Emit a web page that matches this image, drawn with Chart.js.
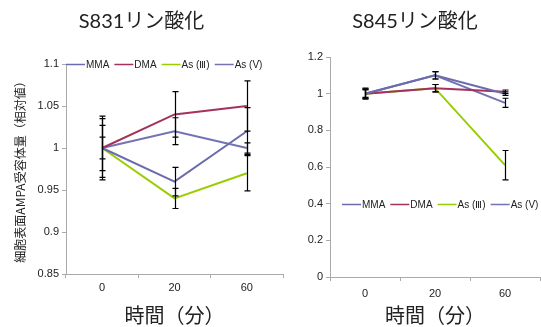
<!DOCTYPE html>
<html>
<head>
<meta charset="utf-8">
<script src="https://cdn.jsdelivr.net/npm/chart.js@4.4.1/dist/chart.umd.min.js"></script>
<style>
    body { margin: 0; background: #fff; }
    #wrap { position: relative; width: 541px; height: 327px; }
    #s831 { position: absolute; left: 0; top: 0; }
    #s845 { position: absolute; left: 290px; top: 0; }
</style>
</head>
<body>
<div id="wrap">
    <canvas id="s831" width="290" height="327"></canvas>
    <canvas id="s845" width="251" height="327"></canvas>
</div>
<script>
// 時間（分）
const times = ['0', '20', '60'];
const seriesNames = ['MMA', 'DMA', 'As (\u2162)', 'As (V)'];
const seriesColors = ['#6b6bad', '#a3325f', '#9acd00', '#7373b3'];

// S831リン酸化
const s831Mma = [1, 0.96, 1.02];
const s831Dma = [1, 1.04, 1.05];
const s831As3 = [1, 0.94, 0.97];
const s831As5 = [1, 1.02, 1.00];
const s831MmaErr = [0.038, 0.017, 0.028];
const s831DmaErr = [0.027, 0.027, 0.030];
const s831As3Err = [0.013, 0.012, 0.021];
const s831As5Err = [0.035, 0.016, 0.006];
const s831Ticks = [0.85, 0.9, 0.95, 1, 1.05, 1.1];

// S845リン酸化
const s845Mma = [1, 1.10, 1.00];
const s845Dma = [1, 1.03, 1.01];
const s845As3 = [1, 1.03, 0.61];
const s845As5 = [1, 1.10, 0.95];
const s845MmaErr = [0.025, 0.02, 0.01];
const s845DmaErr = [0.02, 0.02, 0.01];
const s845As3Err = [0.025, 0.02, 0.08];
const s845As5Err = [0.03, 0.02, 0.025];
const s845Ticks = [0, 0.2, 0.4, 0.6, 0.8, 1, 1.2];

const tickFont = { family: '"Liberation Sans", Arial, sans-serif', size: 11 };
const cjkFont = '"Noto Sans CJK JP", sans-serif';

function makeDatasets(values, errors) {
    return values.map(function (v, i) {
        return {
            label: seriesNames[i],
            data: v,
            errors: errors[i],
            borderColor: seriesColors[i],
            backgroundColor: seriesColors[i],
            borderWidth: 2,
            pointRadius: 0,
            tension: 0
        };
    });
}

// 誤差棒
const errorBars = {
    id: 'errorBars',
    afterDatasetsDraw: function (chart) {
        const ctx = chart.ctx;
        const y = chart.scales.y;
        ctx.save();
        ctx.strokeStyle = '#000';
        ctx.lineWidth = 1.2;
        chart.data.datasets.forEach(function (ds, di) {
            const meta = chart.getDatasetMeta(di);
            meta.data.forEach(function (pt, i) {
                const e = ds.errors[i];
                const top = y.getPixelForValue(ds.data[i] + e);
                const bot = y.getPixelForValue(ds.data[i] - e);
                const x = Math.round(pt.x) + 0.5;
                ctx.beginPath();
                ctx.moveTo(x, top);
                ctx.lineTo(x, bot);
                ctx.moveTo(x - 3, top);
                ctx.lineTo(x + 3, top);
                ctx.moveTo(x - 3, bot);
                ctx.lineTo(x + 3, bot);
                ctx.stroke();
            });
        });
        ctx.restore();
    }
};

// 凡例（グラフ内に描く）
const inlineLegend = {
    id: 'inlineLegend',
    afterDraw: function (chart, args, opts) {
        const ctx = chart.ctx;
        const yPos = Math.round(chart.scales.y.getPixelForValue(opts.atValue));
        let x = chart.chartArea.left + opts.offsetX;
        ctx.save();
        ctx.font = '10px "Liberation Sans", Arial, sans-serif';
        ctx.textBaseline = 'middle';
        chart.data.datasets.forEach(function (ds) {
            ctx.strokeStyle = ds.borderColor;
            ctx.lineWidth = 1.5;
            ctx.beginPath();
            ctx.moveTo(x, yPos + 0.5);
            ctx.lineTo(x + 19, yPos + 0.5);
            ctx.stroke();
            x += 20;
            ctx.fillStyle = '#222';
            ctx.fillText(ds.label, x, yPos + 1);
            x += ctx.measureText(ds.label).width + 5;
        });
        ctx.restore();
    }
};

function buildChart(canvas, cfg) {
    return new Chart(canvas, {
        type: 'line',
        data: {
            labels: times,
            datasets: makeDatasets(cfg.values, cfg.errors)
        },
        plugins: [errorBars, inlineLegend],
        options: {
            responsive: false,
            animation: false,
            layout: {
                padding: { left: 0, right: cfg.padRight, top: 0, bottom: 0 }
            },
            plugins: {
                legend: { display: false },
                tooltip: { enabled: false },
                title: {
                    display: true,
                    text: cfg.title,
                    color: '#222',
                    font: { family: '"Lato", ' + cjkFont, size: 20, weight: 'normal' },
                    padding: { top: 10, bottom: cfg.titleBottom }
                },
                inlineLegend: { atValue: cfg.legendAt, offsetX: cfg.legendX }
            },
            scales: {
                x: {
                    offset: true,
                    afterFit: function (scale) { scale.height = cfg.xHeight; },
                    grid: {
                        offset: true,
                        drawOnChartArea: false,
                        tickLength: 4,
                        color: '#aaa'
                    },
                    border: { color: '#aaa' },
                    ticks: { color: '#222', font: tickFont, padding: cfg.xPad },
                    title: {
                        display: true,
                        text: '時間（分）',
                        color: '#222',
                        font: { family: cjkFont, size: 20 },
                        padding: { top: 0, bottom: 0 }
                    }
                },
                y: {
                    min: cfg.ticks[0],
                    max: cfg.ticks[cfg.ticks.length - 1],
                    afterFit: function (scale) { scale.width = cfg.yWidth; },
                    afterBuildTicks: function (scale) {
                        scale.ticks = cfg.ticks.map(function (v) { return { value: v }; });
                    },
                    grid: {
                        drawOnChartArea: false,
                        tickLength: 4,
                        color: '#aaa'
                    },
                    border: { color: '#aaa' },
                    ticks: {
                        color: '#222',
                        font: tickFont,
                        padding: 3,
                        callback: function (v) { return String(Number(v.toFixed(2))); }
                    },
                    title: {
                        display: cfg.yTitle !== '',
                        text: cfg.yTitle,
                        color: '#222',
                        font: { family: cjkFont, size: 12 },
                        padding: { top: 13, bottom: 0 }
                    }
                }
            }
        }
    });
}

buildChart(document.getElementById('s831'), {
    title: 'S831リン酸化',
    values: [s831Mma, s831Dma, s831As3, s831As5],
    errors: [s831MmaErr, s831DmaErr, s831As3Err, s831As5Err],
    ticks: s831Ticks,
    yTitle: '細胞表面AMPA受容体量（相対値）',
    padRight: 7,
    titleBottom: 30,
    xHeight: 53,
    xPad: 3,
    yWidth: 66,
    legendAt: 1.1,
    legendX: 0
});

buildChart(document.getElementById('s845'), {
    title: 'S845リン酸化',
    values: [s845Mma, s845Dma, s845As3, s845As5],
    errors: [s845MmaErr, s845DmaErr, s845As3Err, s845As5Err],
    ticks: s845Ticks,
    yTitle: '',
    padRight: 1,
    titleBottom: 23,
    xHeight: 50,
    xPad: 6,
    yWidth: 40,
    legendAt: 0.4,
    legendX: 12
});
</script>
</body>
</html>
